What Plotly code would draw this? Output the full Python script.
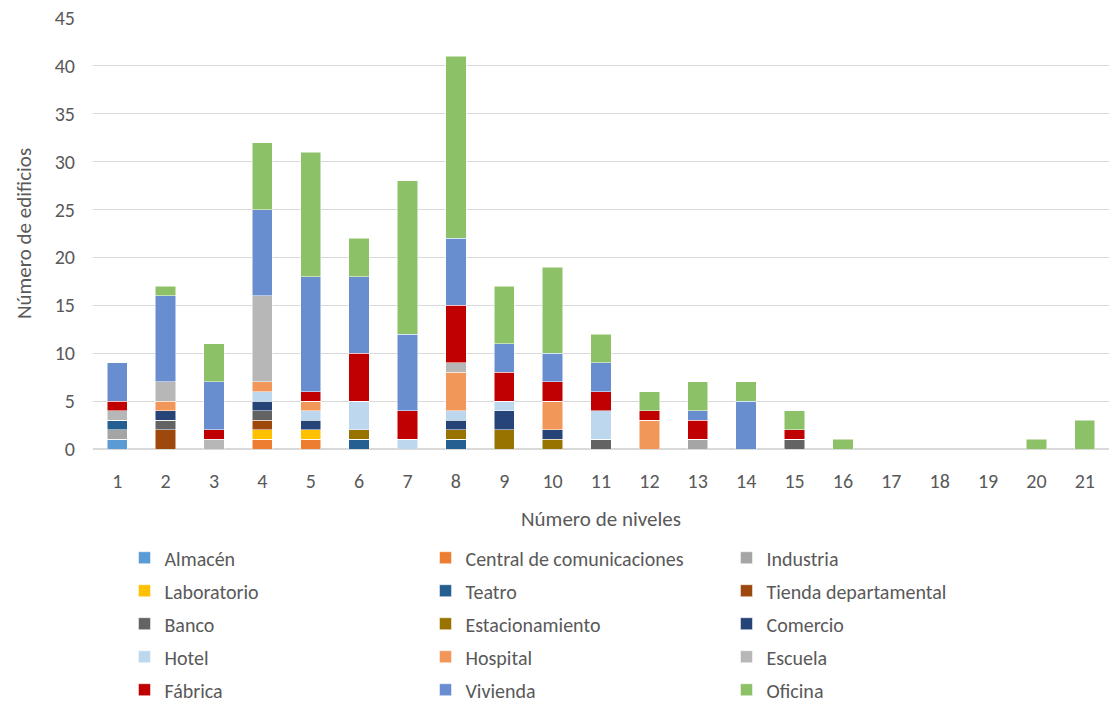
import plotly.graph_objects as go

# Número de niveles (1..21)
niveles = [str(i) for i in range(1, 22)]

# Edificios por tipo de uso y número de niveles
almacen =        [1, 0, 0, 0, 0, 0, 0, 0, 0, 0, 0, 0, 0, 0, 0, 0, 0, 0, 0, 0, 0]
central_com =    [0, 0, 0, 1, 1, 0, 0, 0, 0, 0, 0, 0, 0, 0, 0, 0, 0, 0, 0, 0, 0]
industria =      [1, 0, 0, 0, 0, 0, 0, 0, 0, 0, 0, 0, 1, 0, 0, 0, 0, 0, 0, 0, 0]
laboratorio =    [0, 0, 0, 1, 1, 0, 0, 0, 0, 0, 0, 0, 0, 0, 0, 0, 0, 0, 0, 0, 0]
teatro =         [1, 0, 0, 0, 0, 1, 0, 1, 0, 0, 0, 0, 0, 0, 0, 0, 0, 0, 0, 0, 0]
tienda_dep =     [0, 2, 0, 1, 0, 0, 0, 0, 0, 0, 0, 0, 0, 0, 0, 0, 0, 0, 0, 0, 0]
banco =          [0, 1, 0, 1, 0, 0, 0, 0, 0, 0, 1, 0, 0, 0, 1, 0, 0, 0, 0, 0, 0]
estacionamiento= [0, 0, 0, 0, 0, 1, 0, 1, 2, 1, 0, 0, 0, 0, 0, 0, 0, 0, 0, 0, 0]
comercio =       [0, 1, 0, 1, 1, 0, 0, 1, 2, 1, 0, 0, 0, 0, 0, 0, 0, 0, 0, 0, 0]
hotel =          [0, 0, 0, 1, 1, 3, 1, 1, 1, 0, 3, 0, 0, 0, 0, 0, 0, 0, 0, 0, 0]
hospital =       [0, 1, 0, 1, 1, 0, 0, 4, 0, 3, 0, 3, 0, 0, 0, 0, 0, 0, 0, 0, 0]
escuela =        [1, 2, 1, 9, 0, 0, 0, 1, 0, 0, 0, 0, 0, 0, 0, 0, 0, 0, 0, 0, 0]
fabrica =        [1, 0, 1, 0, 1, 5, 3, 6, 3, 2, 2, 1, 2, 0, 1, 0, 0, 0, 0, 0, 0]
vivienda =       [4, 9, 5, 9, 12, 8, 8, 7, 3, 3, 3, 0, 1, 5, 0, 0, 0, 0, 0, 0, 0]
oficina =        [0, 1, 4, 7, 13, 4, 16, 19, 6, 9, 3, 2, 3, 2, 2, 1, 0, 0, 0, 1, 3]

series = [
    ("Almacén", almacen, "#5B9BD5"),
    ("Central de comunicaciones", central_com, "#ED7D31"),
    ("Industria", industria, "#A5A5A5"),
    ("Laboratorio", laboratorio, "#FFC000"),
    ("Teatro", teatro, "#255E91"),
    ("Tienda departamental", tienda_dep, "#9E480E"),
    ("Banco", banco, "#636363"),
    ("Estacionamiento", estacionamiento, "#997300"),
    ("Comercio", comercio, "#264478"),
    ("Hotel", hotel, "#BDD7EE"),
    ("Hospital", hospital, "#F1975A"),
    ("Escuela", escuela, "#B7B7B7"),
    ("Fábrica", fabrica, "#C00000"),
    ("Vivienda", vivienda, "#698ED0"),
    ("Oficina", oficina, "#8CC168"),
]

FONT = "Calibri, Carlito, Lato, sans-serif"
GRIS = "#595959"

fig = go.Figure()
for nombre, valores, color in series:
    fig.add_trace(go.Bar(
        x=niveles, y=valores, name=nombre, legendgroup=nombre,
        marker=dict(color=color, line=dict(color="white", width=0.5)),
    ))

fig.update_layout(
    barmode="stack",
    bargap=0.58,
    width=1112, height=702,
    paper_bgcolor="white", plot_bgcolor="white",
    font=dict(family=FONT, size=20, color=GRIS),
    margin=dict(l=93, r=3, t=18, b=253, autoexpand=False),
    xaxis=dict(
        title=dict(text="Número de niveles", font=dict(size=21), standoff=19),
        tickfont=dict(size=20), ticklabelstandoff=14,
        showgrid=False, showline=True, linecolor="#D9D9D9",
    ),
    yaxis=dict(
        title=dict(text="Número de edificios", font=dict(size=21), standoff=17),
        range=[0, 45], dtick=5, tickfont=dict(size=20), ticklabelstandoff=17,
        showgrid=True, gridcolor="#D9D9D9", gridwidth=1,
        zeroline=True, zerolinecolor="#D9D9D9",
    ),
    legend=dict(
        orientation="h", x=0.031, xanchor="left", y=-0.207, yanchor="top",
        entrywidth=256, tracegroupgap=4, traceorder="grouped",
        font=dict(size=20, color=GRIS),
    ),
)

# quitar el margen por defecto del body para que la figura quede en (0, 0)
fig.write_html("out.html", config={"displayModeBar": False},
               post_script="document.body.style.margin='0';")
